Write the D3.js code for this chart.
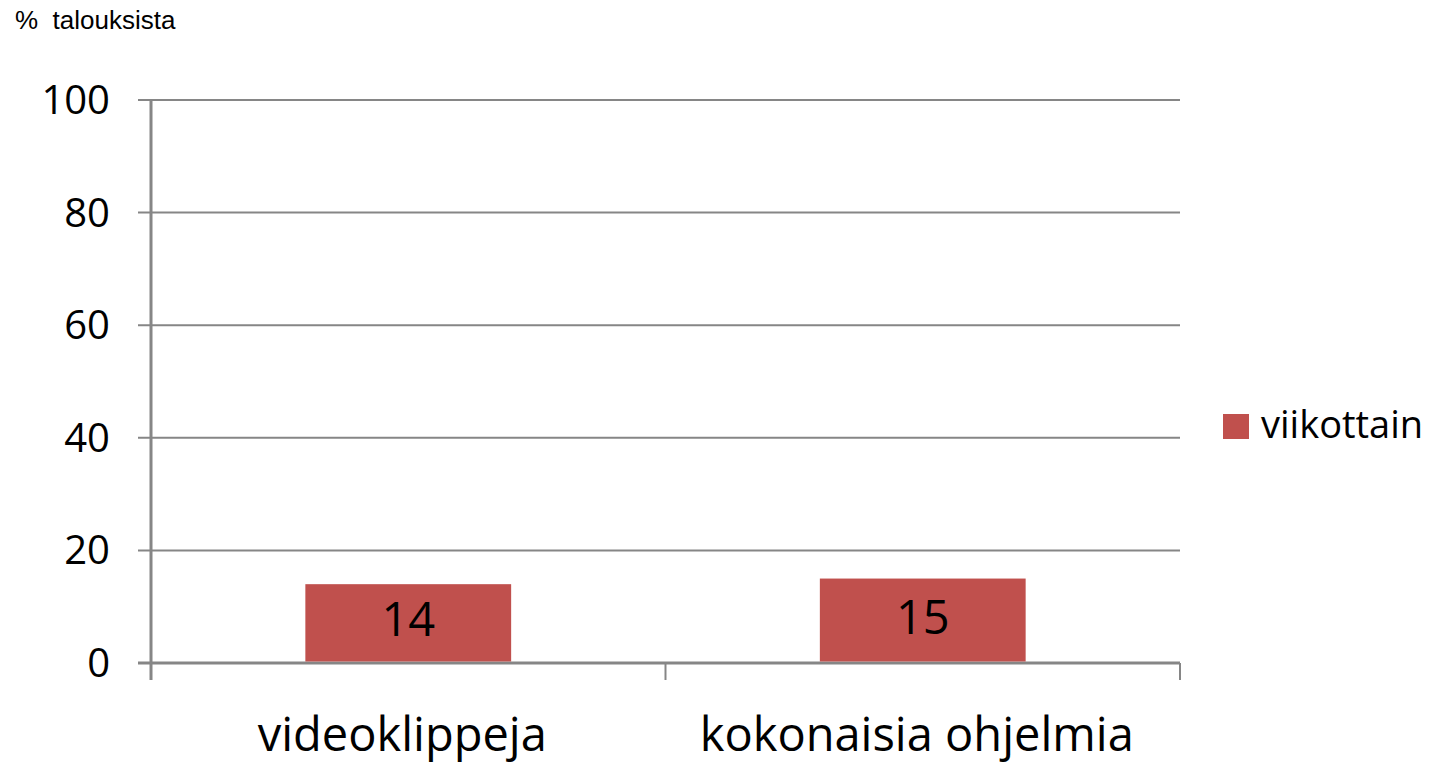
<!DOCTYPE html>
<html>
<head>
<meta charset="utf-8">
<script src="https://cdn.jsdelivr.net/npm/d3@7"></script>
<style>
  html, body { margin: 0; padding: 0; background: #fff; }
  svg { display: block; }
</style>
</head>
<body>
<svg id="chart" width="1429" height="767"></svg>
<script>
const categories = ["videoklippeja", "kokonaisia ohjelmia"];
const seriesName = "viikottain";
const values = [14, 15];
const yTicks = [0, 20, 40, 60, 80, 100];
const unitLabel = "%  talouksista";

(function () {
const svg = d3.select("#chart");
const pLeft = 151, pRight = 1180, pTop = 100, pBottom = 663;
const gridColor = "#868686";
const barColor = "#C0504D";
const font = "'Open Sans', sans-serif";

const x = d3.scaleBand().domain(categories).range([pLeft, pRight])
  .paddingInner(0.6).paddingOuter(0.3);
const y = d3.scaleLinear().domain([0, 100]).range([pBottom, pTop]);

// title
svg.append("text")
  .attr("x", 15).attr("y", 29)
  .attr("font-family", "'Liberation Sans', Arial, sans-serif")
  .attr("font-size", 26)
  .style("white-space", "pre")
  .attr("fill", "#000")
  .text(unitLabel);

// gridlines
svg.append("g").selectAll("line").data(yTicks).join("line")
  .attr("x1", pLeft - 13).attr("x2", pRight)
  .attr("y1", d => y(d)).attr("y2", d => y(d))
  .attr("stroke", gridColor).attr("stroke-width", d => d === 0 ? 3 : 2);

// y tick labels
svg.append("g").selectAll("text").data(yTicks).join("text")
  .attr("x", 110).attr("y", d => y(d) + 14)
  .attr("text-anchor", "end")
  .attr("font-family", font).attr("font-size", 40)
  .attr("fill", "#000")
  .text(d => d);

// y axis line
svg.append("line")
  .attr("x1", pLeft).attr("x2", pLeft)
  .attr("y1", pTop).attr("y2", pBottom + 17)
  .attr("stroke", gridColor).attr("stroke-width", 3);

// category boundary ticks
const bounds = categories.map((c, i) => i === 0 ? pLeft : (x(categories[i - 1]) + x(c) + x.bandwidth()) / 2).concat([pRight]);
svg.append("g").selectAll("line").data(bounds).join("line")
  .attr("x1", d => d).attr("x2", d => d)
  .attr("y1", pBottom).attr("y2", pBottom + 17)
  .attr("stroke", gridColor).attr("stroke-width", 2);

// bars
svg.append("g").selectAll("rect").data(values).join("rect")
  .attr("x", (d, i) => x(categories[i]))
  .attr("y", d => y(d))
  .attr("width", x.bandwidth())
  .attr("height", d => pBottom - y(d) - 1.5)
  .attr("fill", barColor);

// data labels
svg.append("g").selectAll("text").data(values).join("text")
  .attr("x", (d, i) => x(categories[i]) + x.bandwidth() / 2)
  .attr("y", d => (y(d) + pBottom) / 2 - 4 + 0.357 * 47)
  .attr("text-anchor", "middle")
  .attr("font-family", font).attr("font-size", 47)
  .attr("fill", "#000")
  .text(d => d);

// x labels
svg.append("g").selectAll("text").data(categories).join("text")
  .attr("x", d => x(d) + x.bandwidth() / 2 - 6)
  .attr("y", 751)
  .attr("text-anchor", "middle")
  .attr("font-family", font).attr("font-size", 47)
  .attr("fill", "#000")
  .text(d => d);

// legend
const lg = svg.append("g");
lg.append("rect").attr("x", 1223).attr("y", 414).attr("width", 26).attr("height", 25).attr("fill", barColor);
lg.append("text").attr("x", 1261).attr("y", 438)
  .attr("font-family", font).attr("font-size", 38)
  .attr("fill", "#000")
  .text(seriesName);
})();
</script>
</body>
</html>
